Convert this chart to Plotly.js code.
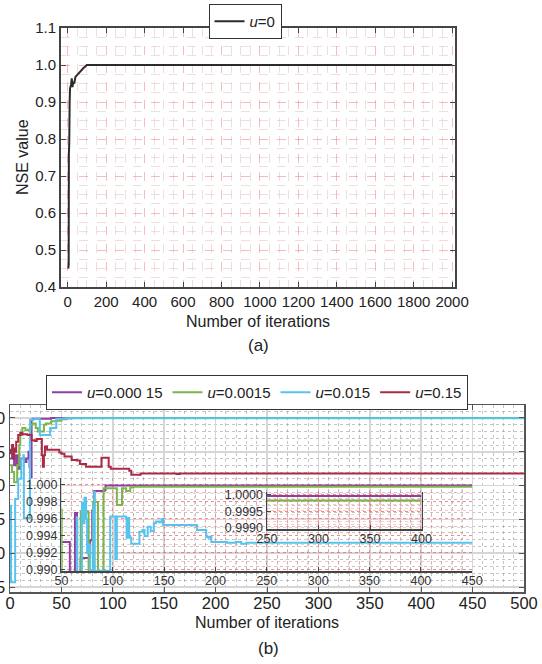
<!DOCTYPE html>
<html>
<head>
<meta charset="utf-8">
<script src="https://cdn.plot.ly/plotly-3.0.1.min.js"></script>
<style>html,body{margin:0;padding:0;background:#fff;}#chart{width:542px;height:664px;}</style>
</head>
<body>
<div id="chart"></div>
<script>
// ---------- (a) u = 0 ----------
const iterA = [3, 5, 6, 8, 10, 12, 17, 21, 25, 29, 34, 40, 47, 55, 64, 73, 82, 90, 99, 2000];
const nseA  = [0.45, 0.46, 0.76, 0.79, 0.90, 0.937, 0.946, 0.964, 0.94, 0.955, 0.95, 0.968, 0.972, 0.977, 0.982, 0.986, 0.992, 0.995, 1.0, 1.0];

// ---------- (b) main panel ----------
const iterP = [0, 2, 4, 6, 8, 10, 12, 14, 16, 18, 19, 20, 21, 22, 30, 40, 50, 60, 500];
const nseP  = [0.94, 0.95, 0.93, 0.945, 0.925, 0.94, 0.94, 0.935, 0.94, 0.95, 0.927, 0.912, 0.997, 0.999, 0.999, 1.0, 0.9995, 1.0, 1.0];

const iterG = [0, 2, 4, 5, 7, 9, 10, 12, 15, 18, 20, 22, 25, 27, 30, 33, 35, 40, 45, 50, 55, 60, 500];
const nseG  = [0.93, 0.92, 0.905, 0.905, 0.93, 0.96, 0.975, 0.985, 0.982, 0.983, 0.99, 0.992, 0.985, 0.98, 0.98, 0.99, 0.992, 0.995, 0.996, 0.998, 1.0, 1.0, 0.9998];

const iterC = [0, 1, 4, 5, 8, 11, 13, 13.5, 19, 19.5, 22, 25, 29, 33, 37, 39, 42, 45, 50, 55, 60, 70, 500];
const nseC  = [0.87, 0.757, 0.757, 0.88, 0.91, 0.94, 0.945, 0.852, 0.852, 0.997, 0.998, 0.999, 0.975, 0.975, 0.975, 0.985, 0.985, 0.999, 0.999, 0.9995, 0.9995, 0.9995, 0.9995];

const iterR = [0, 1, 2, 3, 4, 5, 6, 8, 10, 12, 15, 17, 19, 21, 24, 26, 30, 31, 32, 33, 34, 36, 45, 48, 50, 53, 57, 60, 65, 68, 72, 74, 88, 89, 94, 96, 98, 110, 116, 118, 124, 127, 160, 162, 165, 500];
const nseR  = [0.953, 0.948, 0.96, 0.94, 0.955, 0.95, 0.965, 0.975, 0.978, 0.976, 0.976, 0.975, 0.975, 0.967, 0.966, 0.969, 0.969, 0.945, 0.928, 0.945, 0.958, 0.953, 0.953, 0.949, 0.947, 0.943, 0.943, 0.938, 0.937, 0.932, 0.932, 0.928, 0.928, 0.941, 0.941, 0.928, 0.925, 0.925, 0.922, 0.916, 0.916, 0.918, 0.918, 0.917, 0.918, 0.918];

// ---------- (b) inset 1 (0.990 - 1.000) ----------
const insIterP = [50, 58, 58.2, 63, 63.2, 65, 65.2, 68.5, 68.7, 76, 78, 80, 82, 92, 93, 450];
const insNseP  = [0.9933, 0.9933, 0.9895, 0.9895, 0.9967, 0.9967, 0.9895, 0.9895, 0.9914, 0.9914, 0.9935, 0.997, 0.9993, 0.9994, 0.99993, 0.99993];

const insIterG = [50, 50.3, 68.5, 68.8, 72, 74, 76.2, 76.5, 80.5, 80.8, 85.3, 85.6, 90.8, 91.1, 103.5, 104, 108.5, 109, 112, 113, 116, 117, 120, 450];
const insNseG  = [0.9971, 0.9895, 0.9895, 0.9969, 0.9967, 0.9969, 0.9967, 0.9895, 0.9895, 0.9980, 0.9980, 0.9895, 0.9895, 0.9996, 0.9996, 0.99765, 0.99765, 0.9996, 0.9996, 0.9993, 0.9993, 0.9997, 0.9998, 0.9998];

const insIterC = [50, 64.5, 65, 65.5, 69.5, 70, 71, 72.5, 74, 75, 76.5, 78, 80.5, 81, 82, 82.5, 84, 97, 97.5, 102, 102.5, 103.5, 104, 113, 113.5, 115, 116, 117, 118, 124, 126, 129, 131, 134, 137, 140, 142, 145, 147.5, 149, 170, 182, 191, 193, 195, 196, 210, 211, 220, 225, 230, 450];
const insNseC  = [0.9895, 0.9895, 0.9962, 0.9895, 0.9895, 0.9979, 0.9955, 0.9985, 0.9960, 0.9920, 0.9930, 0.9900, 0.9895, 0.9975, 0.9992, 0.9895, 0.9899, 0.9899, 0.9963, 0.9963, 0.9913, 0.9913, 0.9963, 0.9960, 0.9938, 0.9961, 0.9940, 0.9938, 0.9931, 0.9931, 0.9945, 0.9947, 0.9940, 0.9951, 0.9946, 0.9955, 0.9957, 0.9956, 0.9960, 0.9953, 0.9953, 0.9947, 0.9939, 0.9938, 0.9939, 0.9933, 0.9933, 0.9932, 0.9933, 0.9931, 0.9932, 0.9932];

// ---------- (b) inset 2 (0.9990 - 1.0000) ----------
const in2Iter = [250, 400];
const in2NseP = [0.99997, 0.99997];
const in2NseG = [0.99983, 0.99983];

// labels
const nameA = '<i>u</i>=0';
const namesB = ['<i>u</i>=0.000 15', '<i>u</i>=0.0015', '<i>u</i>=0.015', '<i>u</i>=0.15'];
const colP = '#8e3fa3', colG = '#7ab648', colC = '#56c4ee', colR = '#ad2a47';

const W = 542, H = 664;
const px = v => v / W;
const py = v => 1 - v / H;
const FONT = 'Liberation Sans, Arial, sans-serif';

const traces = [
  {x: iterA, y: nseA, xaxis: 'x', yaxis: 'y', mode: 'lines', name: nameA, legend: 'legend',
   line: {color: '#2b2b2b', width: 2}},
  {x: iterP, y: nseP, xaxis: 'x2', yaxis: 'y2', mode: 'lines', name: namesB[0], legend: 'legend2',
   line: {color: colP, width: 2, shape: 'hv'}},
  {x: iterG, y: nseG, xaxis: 'x2', yaxis: 'y2', mode: 'lines', name: namesB[1], legend: 'legend2',
   line: {color: colG, width: 2, shape: 'hv'}},
  {x: iterC, y: nseC, xaxis: 'x2', yaxis: 'y2', mode: 'lines', name: namesB[2], legend: 'legend2',
   line: {color: colC, width: 2, shape: 'hv'}},
  {x: iterR, y: nseR, xaxis: 'x2', yaxis: 'y2', mode: 'lines', name: namesB[3], legend: 'legend2',
   line: {color: colR, width: 2, shape: 'hv'}},
  {x: insIterP, y: insNseP, xaxis: 'x3', yaxis: 'y3', mode: 'lines', showlegend: false,
   line: {color: colP, width: 2, shape: 'hv'}},
  {x: insIterG, y: insNseG, xaxis: 'x3', yaxis: 'y3', mode: 'lines', showlegend: false,
   line: {color: colG, width: 2, shape: 'hv'}},
  {x: insIterC, y: insNseC, xaxis: 'x3', yaxis: 'y3', mode: 'lines', showlegend: false,
   line: {color: colC, width: 2, shape: 'hv'}},
  {x: in2Iter, y: in2NseP, xaxis: 'x4', yaxis: 'y4', mode: 'lines', showlegend: false,
   line: {color: colP, width: 2}},
  {x: in2Iter, y: in2NseG, xaxis: 'x4', yaxis: 'y4', mode: 'lines', showlegend: false,
   line: {color: colG, width: 2}}
];

const axA = {
  showline: true, linecolor: '#444', linewidth: 2, mirror: 'ticks',
  ticks: 'inside', ticklen: 5, tickcolor: '#444', tickwidth: 1,
  showgrid: true, gridcolor: 'rgba(238,120,120,0.5)', griddash: 'dash', gridwidth: 1,
  zeroline: false, automargin: false,
  tickfont: {family: FONT, size: 15, color: '#222'}
};
const axB = {
  showline: true, linecolor: '#555', linewidth: 1.5, mirror: 'ticks',
  ticks: 'inside', ticklen: 5, tickcolor: '#555', tickwidth: 1,
  showgrid: true, gridcolor: '#d6d6d6', gridwidth: 1.5,
  zeroline: false, automargin: false,
  tickfont: {family: FONT, size: 16.5, color: '#222'}
};
const axI = {
  showline: true, linecolor: '#444', linewidth: 1.5,
  ticks: 'inside', ticklen: 4, tickcolor: '#444', tickwidth: 1,
  showgrid: true, gridcolor: 'rgba(240,100,100,0.6)', griddash: 'dot', gridwidth: 1,
  zeroline: false, automargin: false,
  tickfont: {family: FONT, size: 12.5, color: '#333'}
};

const layout = {
  width: W, height: H,
  margin: {l: 0, r: 0, t: 0, b: 0},
  paper_bgcolor: '#fff', plot_bgcolor: 'rgba(0,0,0,0)',
  font: {family: FONT, color: '#222'},
  xaxis: Object.assign({}, axA, {domain: [px(61), px(455)], range: [-35, 2015], dtick: 200, tick0: 0, anchor: 'y',
    minor: {dtick: 50, showgrid: true, gridcolor: 'rgba(225,190,190,0.5)', griddash: 'dash', gridwidth: 1}}),
  yaxis: Object.assign({}, axA, {domain: [py(287), py(28)], range: [0.4, 1.1], dtick: 0.1, tick0: 0.4, tickformat: '.1f', anchor: 'x',
    minor: {dtick: 0.025, showgrid: true, gridcolor: 'rgba(225,190,190,0.5)', griddash: 'dash', gridwidth: 1}}),
  xaxis2: Object.assign({}, axB, {domain: [px(10), px(524)], range: [0, 500], dtick: 50, tick0: 0, anchor: 'y2',
    ticklabelstandoff: -4,
    minor: {dtick: 10, showgrid: true, gridcolor: 'rgba(140,140,140,0.5)', griddash: 'dot', gridwidth: 1}}),
  yaxis2: Object.assign({}, axB, {domain: [py(592), py(405)], range: [0.7426, 1.0192], dtick: 0.05, tick0: 0.75, tickformat: '.2f', anchor: 'x2',
    minor: {dtick: 0.01, showgrid: true, gridcolor: 'rgba(140,140,140,0.5)', griddash: 'dot', gridwidth: 1}}),
  xaxis3: Object.assign({}, axI, {domain: [px(61.4), px(472.2)], range: [50, 450], dtick: 50, tick0: 0, anchor: 'y3',
    ticklabelstandoff: -3,
    minor: {dtick: 10, showgrid: true, gridcolor: 'rgba(240,140,140,0.45)', griddash: 'dot', gridwidth: 1}}),
  yaxis3: Object.assign({}, axI, {domain: [py(571), py(478)], range: [0.98988, 1.00082], tickvals: [0.990, 0.992, 0.994, 0.996, 0.998, 1.000], tickformat: '.3f', anchor: 'x3',
    minor: {dtick: 0.001, showgrid: true, gridcolor: 'rgba(240,140,140,0.45)', griddash: 'dot', gridwidth: 1}}),
  xaxis4: Object.assign({}, axI, {domain: [px(267), px(421.5)], range: [250, 400], dtick: 50, tick0: 0, anchor: 'y4',
    ticklabelstandoff: -3,
    minor: {dtick: 10, showgrid: true, gridcolor: 'rgba(240,140,140,0.45)', griddash: 'dot', gridwidth: 1}}),
  yaxis4: Object.assign({}, axI, {domain: [py(529), py(492)], range: [0.99897, 1.00009], mirror: true,
    tickvals: [0.999, 0.9995, 1.0], ticktext: ['0.9990', '0.9995', '1.0000'], anchor: 'x4',
    minor: {dtick: 0.0001, showgrid: true, gridcolor: 'rgba(240,140,140,0.45)', griddash: 'dot', gridwidth: 1}}),
  legend: {x: px(245), xanchor: 'center', y: py(4), yanchor: 'top', orientation: 'h',
    bgcolor: '#fff', bordercolor: '#333', borderwidth: 1, font: {family: FONT, size: 15, color: '#222'},
    itemwidth: 30},
  legend2: {x: px(257), xanchor: 'center', y: py(375), yanchor: 'top', orientation: 'h',
    bgcolor: '#fff', bordercolor: '#333', borderwidth: 1, font: {family: FONT, size: 15, color: '#222'},
    itemwidth: 30},
  annotations: [
    {text: 'Number of iterations', xref: 'paper', yref: 'paper', x: px(258), y: py(321), xanchor: 'center', yanchor: 'middle', showarrow: false, font: {family: FONT, size: 16, color: '#222'}},
    {text: 'NSE value', xref: 'paper', yref: 'paper', x: px(22), y: py(157), xanchor: 'center', yanchor: 'middle', textangle: -90, showarrow: false, font: {family: FONT, size: 16, color: '#222'}},
    {text: '(a)', xref: 'paper', yref: 'paper', x: px(258), y: py(345), xanchor: 'center', yanchor: 'middle', showarrow: false, font: {family: FONT, size: 17, color: '#222'}},
    {text: 'Number of iterations', xref: 'paper', yref: 'paper', x: px(267), y: py(622), xanchor: 'center', yanchor: 'middle', showarrow: false, font: {family: FONT, size: 16, color: '#222'}},
    {text: '(b)', xref: 'paper', yref: 'paper', x: px(268), y: py(648), xanchor: 'center', yanchor: 'middle', showarrow: false, font: {family: FONT, size: 17, color: '#222'}}
  ]
};

Plotly.newPlot('chart', traces, layout, {displayModeBar: false, staticPlot: true});
</script>
</body>
</html>
